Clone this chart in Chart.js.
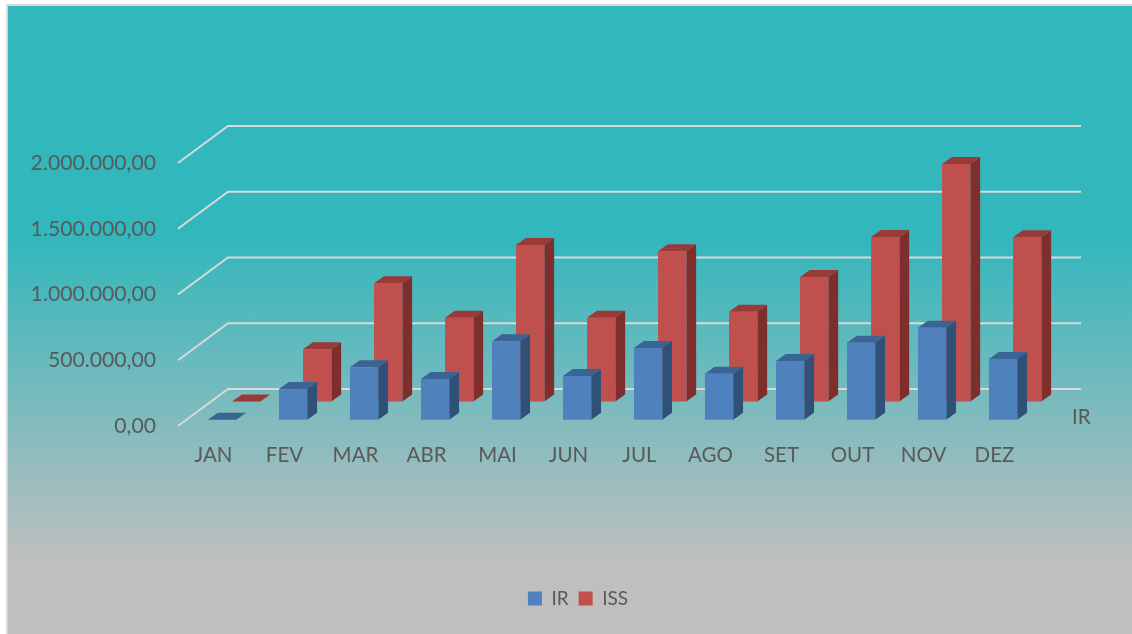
<!DOCTYPE html>
<html>
<head>
    <title>IR x ISS</title>
    <script src="https://cdnjs.cloudflare.com/ajax/libs/Chart.js/4.4.1/chart.umd.min.js"></script>
    <style>
        html, body { margin: 0; padding: 0; background: white; }
        .frame {
            position: absolute;
            left: 6px;
            top: 4px;
            width: 1126px;
            height: 630px;
            box-sizing: border-box;
            border: solid #d9d9d9;
            border-width: 2px 0 0 2px;
            background: linear-gradient(to bottom, #32b7bc 0, #32b7bc 232px, #bfbfbf 556px, #bfbfbf 630px);
        }
        canvas { position: absolute; left: 0; top: 0; filter: blur(0.4px); }
    </style>
</head>
<body>
    <div class="frame"></div>
    <canvas id="chart" width="1132" height="634"></canvas>

    <script>
        const months = ['JAN', 'FEV', 'MAR', 'ABR', 'MAI', 'JUN', 'JUL', 'AGO', 'SET', 'OUT', 'NOV', 'DEZ'];
        const irValues = [0, 233000, 398000, 310000, 596000, 332000, 545000, 350000, 446000, 586000, 700000, 462000];
        const issValues = [0, 397000, 899000, 637000, 1190000, 637000, 1142000, 683000, 947000, 1251000, 1806000, 1249000];
        const depthLabel = 'IR';

        const textColor = '#595959';
        const fontFamily = 'Lato, sans-serif';
        const fontSize = 20.5;

        const formatTick = (value) => value.toLocaleString('pt-BR', {
            minimumFractionDigits: 2,
            maximumFractionDigits: 2,
        });

        // Chart.js has no 3D bars, so the depth is painted over the normal scales
        const wallDepth = { x: 50, y: -37 };

        const barFaces = [
            { dx: 8.6, dy: -6.3, side: '#2f5178', top: '#3a6494' },
            { dx: 32.7, dy: -24.5, side: '#7e2f2d', top: '#983b38' },
        ];
        const barDepth = { x: 9.8, y: -7 };

        const wallPlugin = {
            id: 'wall',
            afterLayout(chart) {
                // legend sits under the plot, not centred on the canvas
                const legend = chart.legend;
                legend.left += 59;
                legend.right += 59;
                legend.top += 8;
                legend.bottom += 8;
            },
            beforeDatasetsDraw(chart) {
                const { ctx, chartArea, scales } = chart;
                ctx.save();
                ctx.strokeStyle = '#d9d9d9';
                ctx.lineWidth = 2;
                scales.y.ticks.forEach((tick) => {
                    const y = scales.y.getPixelForValue(tick.value);
                    ctx.beginPath();
                    ctx.moveTo(chartArea.left, y);
                    ctx.lineTo(chartArea.left + wallDepth.x, y + wallDepth.y);
                    ctx.lineTo(chartArea.right + wallDepth.x + 1, y + wallDepth.y);
                    ctx.stroke();
                });
                ctx.fillStyle = textColor;
                ctx.font = fontSize + 'px ' + fontFamily;
                ctx.textBaseline = 'middle';
                ctx.textAlign = 'left';
                ctx.fillText(depthLabel, 1072, 417);
                ctx.restore();
            },
            beforeDatasetDraw(chart, args) {
                const { ctx } = chart;
                const face = barFaces[args.index];
                const color = chart.data.datasets[args.index].backgroundColor;
                ctx.save();
                args.meta.data.forEach((bar) => {
                    const left = bar.x - bar.width / 2 + face.dx;
                    const right = left + bar.width;
                    const top = bar.y + face.dy;
                    const bottom = bar.base + face.dy;

                    ctx.fillStyle = face.side;
                    ctx.beginPath();
                    ctx.moveTo(right, top);
                    ctx.lineTo(right + barDepth.x, top + barDepth.y);
                    ctx.lineTo(right + barDepth.x, bottom + barDepth.y);
                    ctx.lineTo(right, bottom);
                    ctx.closePath();
                    ctx.fill();

                    ctx.fillStyle = face.top;
                    ctx.beginPath();
                    ctx.moveTo(left, top);
                    ctx.lineTo(left + barDepth.x, top + barDepth.y);
                    ctx.lineTo(right + barDepth.x, top + barDepth.y);
                    ctx.lineTo(right, top);
                    ctx.closePath();
                    ctx.fill();

                    ctx.fillStyle = color;
                    ctx.fillRect(left, top, bar.width, bottom - top);
                });
                ctx.restore();
                return false;
            },
        };

        new Chart(document.getElementById('chart'), {
            type: 'bar',
            data: {
                labels: months,
                datasets: [
                    { label: 'IR', data: irValues, backgroundColor: '#4f81bd', grouped: false, barThickness: 28.3 },
                    { label: 'ISS', data: issValues, backgroundColor: '#c0504d', grouped: false, barThickness: 28.3 },
                ],
            },
            plugins: [wallPlugin],
            options: {
                responsive: false,
                animation: false,
                layout: { padding: { left: 8, right: 102, top: 163, bottom: 24 } },
                plugins: {
                    tooltip: { enabled: false },
                    legend: {
                        position: 'bottom',
                        labels: {
                            boxWidth: 14,
                            boxHeight: 14,
                            padding: 10,
                            color: textColor,
                            font: { family: fontFamily, size: 19 },
                        },
                    },
                },
                scales: {
                    x: {
                        afterFit(scale) { scale.height = 145; },
                        grid: { display: false },
                        border: { display: false },
                        ticks: {
                            color: textColor,
                            padding: 9,
                            maxRotation: 0,
                            autoSkip: false,
                            font: { family: fontFamily, size: fontSize },
                        },
                    },
                    y: {
                        min: 0,
                        max: 2000000,
                        afterFit(scale) { scale.width = 170; },
                        grid: { display: false, drawTicks: false },
                        border: { display: false },
                        ticks: {
                            stepSize: 500000,
                            color: textColor,
                            padding: 22,
                            callback: formatTick,
                            font: { family: fontFamily, size: 21.2 },
                        },
                    },
                },
            },
        });
    </script>
</body>
</html>
